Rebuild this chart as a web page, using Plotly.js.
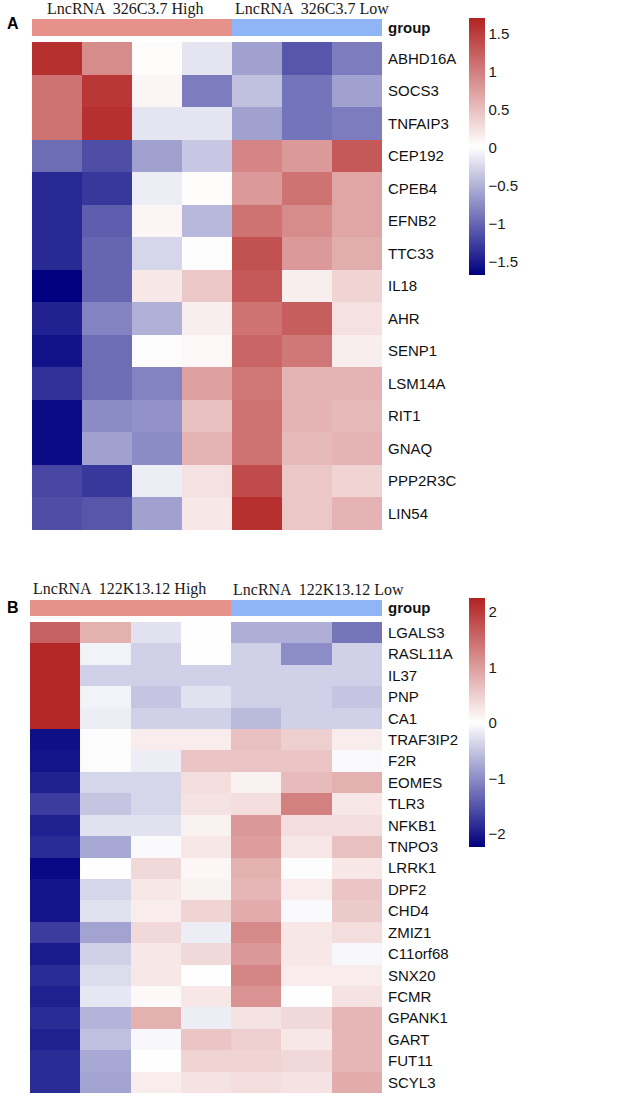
<!DOCTYPE html>
<html>
<head>
<meta charset="utf-8">
<script src="https://cdn.plot.ly/plotly-3.0.1.min.js"></script>
<style>html,body{margin:0;padding:0;background:#fff;}#chart{width:623px;height:1102px;}</style>
</head>
<body>
<div id="chart"></div>
<script>
// ---------- DATA ----------
const samples = ["S1", "S2", "S3", "S4", "S5", "S6", "S7"];
const groupCodes = [0, 0, 0, 0, 1, 1, 1]; // 0 = High, 1 = Low

const genesA = ["ABHD16A", "SOCS3", "TNFAIP3", "CEP192", "CPEB4", "EFNB2", "TTC33", "IL18", "AHR", "SENP1", "LSM14A", "RIT1", "GNAQ", "PPP2R3C", "LIN54"];
const valuesA = [
  [1.6, 0.9, 0.05, -0.15, -0.6, -1.1, -0.85],
  [1.1, 1.55, 0.1, -0.85, -0.4, -0.9, -0.6],
  [1.1, 1.6, -0.15, -0.15, -0.6, -0.9, -0.85],
  [-0.95, -1.15, -0.6, -0.35, 0.95, 0.8, 1.3],
  [-1.4, -1.3, -0.1, 0.05, 0.8, 1.1, 0.7],
  [-1.4, -1.05, 0.1, -0.45, 1.1, 0.9, 0.7],
  [-1.4, -1.0, -0.25, 0.0, 1.35, 0.8, 0.65],
  [-1.67, -1.0, 0.2, 0.45, 1.3, 0.15, 0.35],
  [-1.45, -0.8, -0.5, 0.15, 1.1, 1.25, 0.25],
  [-1.55, -0.95, 0.0, 0.07, 1.2, 1.05, 0.15],
  [-1.35, -0.95, -0.8, 0.75, 1.05, 0.6, 0.6],
  [-1.6, -0.75, -0.7, 0.5, 1.1, 0.6, 0.55],
  [-1.6, -0.6, -0.75, 0.6, 1.1, 0.55, 0.6],
  [-1.2, -1.3, -0.1, 0.25, 1.4, 0.45, 0.35],
  [-1.15, -1.1, -0.6, 0.2, 1.6, 0.45, 0.6]
];
const groupLabelsA = ["LncRNA  326C3.7 High", "LncRNA  326C3.7 Low"];
const cbTicksA = [-1.5, -1, -0.5, 0, 0.5, 1, 1.5];
const zRangeA = [-1.67, 1.71];

const genesB = ["LGALS3", "RASL11A", "IL37", "PNP", "CA1", "TRAF3IP2", "F2R", "EOMES", "TLR3", "NFKB1", "TNPO3", "LRRK1", "DPF2", "CHD4", "ZMIZ1", "C11orf68", "SNX20", "FCMR", "GPANK1", "GART", "FUT11", "SCYL3"];
const valuesB = [
  [1.6, 0.8, -0.25, 0.02, -0.7, -0.7, -1.2],
  [2.2, -0.1, -0.4, 0.02, -0.4, -1.0, -0.4],
  [2.2, -0.4, -0.4, -0.4, -0.4, -0.4, -0.4],
  [2.2, -0.1, -0.5, -0.25, -0.4, -0.4, -0.5],
  [2.2, -0.15, -0.4, -0.4, -0.6, -0.4, -0.4],
  [-2.1, -0.02, 0.2, 0.2, 0.65, 0.5, 0.2],
  [-2.05, -0.02, -0.15, 0.6, 0.6, 0.6, -0.03],
  [-1.95, -0.35, -0.35, 0.35, 0.15, 0.7, 0.8],
  [-1.7, -0.5, -0.35, 0.3, 0.35, 1.3, 0.25],
  [-1.95, -0.25, -0.25, 0.15, 1.05, 0.35, 0.35],
  [-1.85, -0.75, -0.03, 0.25, 1.0, 0.25, 0.65],
  [-2.15, 0.02, 0.4, 0.1, 0.8, 0.03, 0.25],
  [-2.05, -0.35, 0.25, 0.15, 0.75, 0.2, 0.6],
  [-2.05, -0.25, 0.2, 0.45, 0.85, -0.03, 0.55],
  [-1.7, -0.8, 0.4, -0.15, 1.2, 0.25, 0.35],
  [-2.0, -0.4, 0.25, 0.4, 1.05, 0.25, -0.05],
  [-1.85, -0.3, 0.25, 0.02, 1.25, 0.2, 0.2],
  [-1.95, -0.2, 0.07, 0.25, 1.1, 0.02, 0.3],
  [-1.85, -0.65, 0.8, -0.15, 0.3, 0.4, 0.75],
  [-1.95, -0.55, -0.05, 0.6, 0.5, 0.25, 0.75],
  [-1.85, -0.75, 0.02, 0.45, 0.45, 0.4, 0.75],
  [-1.85, -0.8, 0.2, 0.3, 0.35, 0.3, 0.85]
];
const groupLabelsB = ["LncRNA  122K13.12 High", "LncRNA  122K13.12 Low"];
const cbTicksB = [-2, -1, 0, 1, 2];
const zRangeB = [-2.23, 2.25];

// ---------- STYLE ----------
const W = 623, H = 1102;
const px = v => v / W;
const py = v => 1 - v / H;
const heatScale = [[0, "#000080"], [0.5, "#FFFFFF"], [1, "#B22222"]];
const groupScale = [[0, "#E6918A"], [0.5, "#E6918A"], [0.5, "#90B5F7"], [1, "#90B5F7"]];
const sans = "Liberation Sans, Arial, sans-serif";
const serif = "Liberation Serif, Times New Roman, serif";
const idx = n => Array.from({length: n}, (_, i) => i);

const traces = [
  { type: "heatmap", x: idx(samples.length), y: idx(genesA.length), z: valuesA,
    xaxis: "x", yaxis: "y", colorscale: heatScale, zmin: zRangeA[0], zmax: zRangeA[1],
    colorbar: { x: px(469), xanchor: "left", y: py(18), yanchor: "top",
      len: 257, lenmode: "pixels", thickness: 16, thicknessmode: "pixels",
      xpad: 0, ypad: 0, outlinewidth: 0, tickvals: cbTicksA, ticks: "",
      tickfont: { family: sans, size: 15, color: "#1a1a1a" } } },
  { type: "heatmap", x: idx(samples.length), y: [0], z: [groupCodes],
    xaxis: "x2", yaxis: "y2", colorscale: groupScale, zmin: 0, zmax: 1, showscale: false },
  { type: "heatmap", x: idx(samples.length), y: idx(genesB.length), z: valuesB,
    xaxis: "x3", yaxis: "y3", colorscale: heatScale, zmin: zRangeB[0], zmax: zRangeB[1],
    colorbar: { x: px(469), xanchor: "left", y: py(598), yanchor: "top",
      len: 249, lenmode: "pixels", thickness: 16, thicknessmode: "pixels",
      xpad: 0, ypad: 0, outlinewidth: 0, tickvals: cbTicksB, ticks: "",
      tickfont: { family: sans, size: 15, color: "#1a1a1a" } } },
  { type: "heatmap", x: idx(samples.length), y: [0], z: [groupCodes],
    xaxis: "x4", yaxis: "y4", colorscale: groupScale, zmin: 0, zmax: 1, showscale: false }
];

const hidX = (dom, anchor) => ({ domain: dom, range: [-0.5, samples.length - 0.5], visible: false, anchor: anchor, fixedrange: true });
const geneY = (dom, anchor, genes) => ({ domain: dom, anchor: anchor, side: "right",
  tickvals: idx(genes.length), ticktext: genes, autorange: "reversed", ticks: "",
  showgrid: false, zeroline: false, showline: false, ticklabelstandoff: 5,
  tickfont: { family: sans, size: 15, color: "#111" } });
const grpY = (dom, anchor) => ({ domain: dom, anchor: anchor, side: "right",
  tickvals: [0], ticktext: ["<b>group</b>"], range: [-0.5, 0.5], ticks: "",
  showgrid: false, zeroline: false, showline: false, ticklabelstandoff: 5,
  tickfont: { family: sans, size: 15, color: "#111" } });

const hdr = (text, xl, yc) => ({ text: text, xref: "paper", yref: "paper", x: px(xl), y: py(yc),
  xanchor: "left", yanchor: "middle", showarrow: false,
  font: { family: serif, size: 16, color: "#1a1a1a" } });
const panel = (text, xl, yc) => ({ text: "<b>" + text + "</b>", xref: "paper", yref: "paper", x: px(xl), y: py(yc),
  xanchor: "left", yanchor: "middle", showarrow: false,
  font: { family: sans, size: 16, color: "#000" } });

const layout = {
  width: W, height: H, margin: { l: 0, r: 0, t: 0, b: 0 },
  paper_bgcolor: "#fff", plot_bgcolor: "#fff", showlegend: false,
  xaxis: hidX([px(32), px(382)], "y"),
  yaxis: geneY([py(530), py(42)], "x", genesA),
  xaxis2: hidX([px(32), px(382)], "y2"),
  yaxis2: grpY([py(36), py(19)], "x2"),
  xaxis3: hidX([px(30), px(382)], "y3"),
  yaxis3: geneY([py(1093), py(622)], "x3", genesB),
  xaxis4: hidX([px(30), px(382)], "y4"),
  yaxis4: grpY([py(616), py(600)], "x4"),
  annotations: [
    hdr(groupLabelsA[0], 45, 9), hdr(groupLabelsA[1], 233, 9),
    hdr(groupLabelsB[0], 31, 589), hdr(groupLabelsB[1], 231, 589),
    panel("A", 5, 23), panel("B", 5, 607)
  ]
};

Plotly.newPlot("chart", traces, layout, { staticPlot: true, displayModeBar: false });
</script>
</body>
</html>
